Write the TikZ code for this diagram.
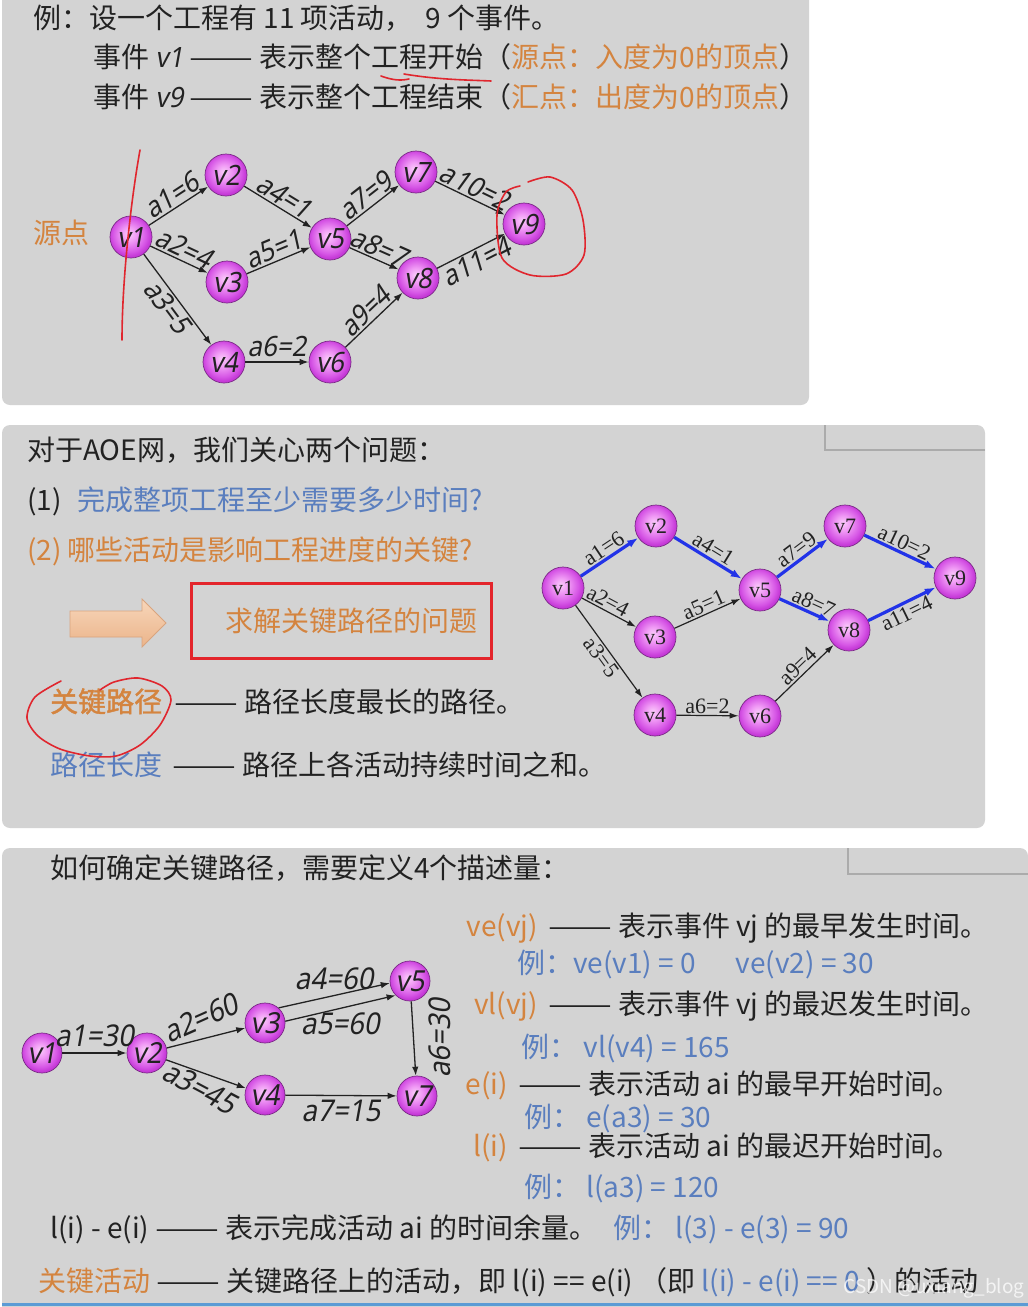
\documentclass[tikz,border=0pt]{standalone}
\usepackage{fontspec}
\setmainfont{Noto Sans CJK SC}
\newfontfamily\slantsf[FakeSlant=0.18,FakeStretch=0.92]{Noto Sans}
\newfontfamily\boldcjk[FakeBold=1.5]{Noto Sans CJK SC}
\newfontfamily\timesrm{Liberation Serif}
\usetikzlibrary{arrows.meta,positioning}
\newcommand\aoesize[1]{\fontsize{#1}{#1}\selectfont}
\newcommand\aoedash{\scalebox{1.36}[1]{——}}
\definecolor{aoeInk}{HTML}{222222}
\definecolor{aoeOrange}{HTML}{D4843F}
\definecolor{aoeBlue}{HTML}{5A7EBE}
\definecolor{aoePanel}{HTML}{D3D3D3}
\definecolor{aoeShadow}{HTML}{ABABAB}
\definecolor{aoeCrit}{HTML}{2233E8}
\definecolor{aoeRed}{HTML}{E3252B}
\definecolor{aoePen}{HTML}{E0262E}
\definecolor{aoeRule}{HTML}{5B9BD5}
\definecolor{aoeBallEdge}{HTML}{7A2A86}
\definecolor{aoeHintEdge}{HTML}{D9A47E}
\definecolor{aoeHintTop}{HTML}{F7D6BA}
\definecolor{aoeHintBottom}{HTML}{EBB48A}
\pgfdeclareradialshading{aoeballshade}{\pgfpoint{-3bp}{4bp}}{%
  rgb(0bp)=(0.98,0.80,0.98);
  rgb(9bp)=(0.94,0.60,0.96);
  rgb(20bp)=(0.84,0.34,0.90);
  rgb(25bp)=(0.77,0.22,0.84);
  rgb(50bp)=(0.77,0.22,0.84)}
\tikzset{
  every picture/.style={text=aoeInk},
  aoe panel/.style={fill=aoePanel, rounded corners=8pt},
  aoe tab/.style={draw=aoeShadow, line width=1.4pt},
  aoe line/.style={anchor=base west, inner sep=0pt, font=\aoesize{28}},
  aoe term/.style={anchor=base east, inner sep=0pt, font=\aoesize{28}, text=aoeOrange},
  aoe note/.style={aoe line, text=aoeBlue},
  aoe ball/.style={circle, shade, shading=aoeballshade, draw=aoeBallEdge,
    line width=0.7pt, inner sep=0pt, minimum size=42pt},
  aoe act/.style={draw=aoeInk, line width=1.3pt, -{Latex[length=9pt,width=6.5pt]}},
  aoe plain/.style={draw=aoeInk, line width=1.2pt, -{Latex[length=9pt,width=6pt]}},
  aoe crit/.style={draw=aoeCrit, line width=3.2pt, -{Latex[length=11pt,width=8pt]}},
  aoe tag/.style={font=\slantsf\aoesize{28}, inner sep=1.5pt},
  aoe big tag/.style={font=\slantsf\aoesize{30}, inner sep=1.5pt},
  aoe serif tag/.style={font=\timesrm\aoesize{22}, inner sep=1.5pt},
  aoe pen/.style={draw=aoePen, line width=1.6pt, line cap=round, line join=round},
  aoe hint/.style={draw=aoeHintEdge, line width=0.8pt, top color=aoeHintTop, bottom color=aoeHintBottom},
  aoe key box/.style={draw=aoeRed, line width=3pt, minimum width=300pt, minimum height=75pt,
    inner sep=0pt, text=aoeOrange, font=\aoesize{28}}
}

\begin{document}
\begin{tikzpicture}[x=1pt,y=-1pt]
  \useasboundingbox (0,0) rectangle (1028,1307);
  \clip (0,0) rectangle (1028,1307);
  % three slides
  \fill[aoe panel] (2,-10) rectangle (809,405);
  \fill[aoe panel] (2,425) rectangle (985,828);
  \fill[aoe panel] (2,848) rectangle (1028,1320);
  \draw[aoe tab] (825,425) -- (825,450) -- (985,450);
  \draw[aoe tab] (848,848) -- (848,874) -- (1028,874);
  \draw[aoeRule, line width=3pt] (2,1304) -- (1028,1304);

  % slide 1
  \node[aoe line] (example) at (33,28) {例：设一个工程有 11 项活动，\ \ 9 个事件。};
  \node[aoe line] (evstart) at (93,67) {事件 {\slantsf v1}\ \aoedash\ 表示整个工程开始（\textcolor{aoeOrange}{源点：入度为0的顶点}）};
  \node[aoe line] (evend) at (93,107) {事件 {\slantsf v9}\ \aoedash\ 表示整个工程结束（\textcolor{aoeOrange}{汇点：出度为0的顶点}）};
  \node[font=\aoesize{28}, text=aoeOrange] (srclbl) at (62,233) {源点};
  \foreach \n/\x/\y in {1/131/237,2/226/175,3/227/282,4/224/362,5/330/239,6/330/362,7/416/172,8/418/278,9/524/224}
    \node[aoe ball, font=\slantsf\aoesize{28}] (t\n) at (\x,\y) {v\n};
  \draw[aoe act] (t1) -- node[aoe tag, sloped, above] {a1=6} (t2);
  \draw[aoe act] (t1) -- node[aoe tag, sloped, above] {a2=4} (t3);
  \draw[aoe act] (t1) -- node[aoe tag, sloped, below] {a3=5} (t4);
  \draw[aoe act] (t2) -- node[aoe tag, sloped, above] {a4=1} (t5);
  \draw[aoe act] (t3) -- node[aoe tag, sloped, above] {a5=1} (t5);
  \draw[aoe act] (t4) -- node[aoe tag, above=3pt] {a6=2} (t6);
  \draw[aoe act] (t5) -- node[aoe tag, sloped, above] {a7=9} (t7);
  \draw[aoe act] (t5) -- node[aoe tag, sloped, above] {a8=7} (t8);
  \draw[aoe act] (t6) -- node[aoe tag, sloped, above] {a9=4} (t8);
  \draw[aoe act] (t7) -- node[aoe tag, sloped, above] {a10=2} (t9);
  \draw[aoe act] (t8) -- node[aoe tag, sloped, below] {a11=4} (t9);

  % slide 2
  \node[aoe line] (care) at (27,460) {对于AOE网，我们关心两个问题：};
  \node[aoe line] (ask1) at (27,510) {(1)\hspace{16pt}\textcolor{aoeBlue}{完成整项工程至少需要多少时间?}};
  \node[aoe line, text=aoeOrange] (ask2) at (27,560) {(2) 哪些活动是影响工程进度的关键?};
  \draw[aoe hint] (70,611) -- (142,611) -- (142,599) -- (166,623) -- (142,647) -- (142,637) -- (70,637) -- cycle;
  \node[aoe key box] (solve) at (341.5,621) {\hspace*{20pt}求解关键路径的问题};
  \node[aoe line, text=aoeOrange, font=\boldcjk\aoesize{28}] (keypath) at (50,712) {关键路径};
  \node[aoe line] (keypathdesc) at ([xshift=12pt]keypath.base east) {\aoedash\ 路径长度最长的路径。};
  \node[aoe line, text=aoeBlue] (pathlen) at (50,775) {路径长度};
  \node[aoe line] (pathlendesc) at ([xshift=10pt]pathlen.base east) {\aoedash\ 路径上各活动持续时间之和。};
  \foreach \n/\x/\y in {1/563/588,2/656/526,3/655/637,4/655/715,5/760/590,6/760/716,7/845/526,8/849/630,9/955/578}
    \node[aoe ball, font=\timesrm\aoesize{22}] (m\n) at (\x,\y) {v\n};
  \draw[aoe crit] (m1) -- node[aoe serif tag, sloped, above] {a1=6} (m2);
  \draw[aoe plain] (m1) -- node[aoe serif tag, sloped, above, pos=0.4] {a2=4} (m3);
  \draw[aoe plain] (m1) -- node[aoe serif tag, sloped, below] {a3=5} (m4);
  \draw[aoe crit] (m2) -- node[aoe serif tag, sloped, above] {a4=1} (m5);
  \draw[aoe plain] (m3) -- node[aoe serif tag, sloped, above] {a5=1} (m5);
  \draw[aoe plain] (m4) -- node[aoe serif tag, above] {a6=2} (m6);
  \draw[aoe crit] (m5) -- node[aoe serif tag, sloped, above] {a7=9} (m7);
  \draw[aoe crit] (m5) -- node[aoe serif tag, sloped, above, pos=0.6] {a8=7} (m8);
  \draw[aoe plain] (m6) -- node[aoe serif tag, sloped, above] {a9=4} (m8);
  \draw[aoe crit] (m7) -- node[aoe serif tag, sloped, above] {a10=2} (m9);
  \draw[aoe crit] (m8) -- node[aoe serif tag, sloped, below] {a11=4} (m9);

  % slide 3
  \node[aoe line] (howto) at (50,878) {如何确定关键路径，需要定义4个描述量：};
  \foreach \n/\x/\y in {1/42/1053,2/147/1053,3/265/1023,4/265/1095,5/410/981,7/417/1096}
    \node[aoe ball, minimum size=40pt, font=\slantsf\aoesize{29}] (b\n) at (\x,\y) {v\n};
  \draw[aoe act] (b1) -- node[aoe big tag, above=4pt] {a1=30} (b2);
  \draw[aoe act] (b2) -- node[aoe big tag, above=8pt, rotate=24] {a2=60} (b3);
  \draw[aoe act] (b2) -- node[aoe big tag, below=2pt, rotate=-28] {a3=45} (b4);
  \draw[aoe act] (b3.48) -- node[aoe big tag, above=4pt] {a4=60} (b5.186);
  \draw[aoe act] (b3.5) -- node[aoe big tag, below=2pt] {a5=60} (b5.225);
  \draw[aoe act] (b5) -- node[aoe big tag, rotate=90, anchor=north, outer sep=14pt] {a6=30} (b7);
  \draw[aoe act] (b4) -- node[aoe big tag, below=2pt] {a7=15} (b7);
  \node[aoe term] (vearly) at (538,936) {ve(vj)};
  \node[aoe line] (vearlydesc) at ([xshift=10pt]vearly.base east) {\aoedash\ 表示事件 vj 的最早发生时间。};
  \node[aoe note] (vearlyex) at (517,973) {例：ve(v1) = 0\hspace{40pt}ve(v2) = 30};
  \node[aoe term] (vlate) at (538,1014) {vl(vj)};
  \node[aoe line] (vlatedesc) at ([xshift=10pt]vlate.base east) {\aoedash\ 表示事件 vj 的最迟发生时间。};
  \node[aoe note] (vlateex) at (521,1057) {例：\ vl(v4) = 165};
  \node[aoe term] (aearly) at (508,1094) {e(i)};
  \node[aoe line] (aearlydesc) at ([xshift=10pt]aearly.base east) {\aoedash\ 表示活动 ai 的最早开始时间。};
  \node[aoe note] (aearlyex) at (524,1127) {例：\ e(a3) = 30};
  \node[aoe term] (alate) at (508,1156) {l(i)};
  \node[aoe line] (alatedesc) at ([xshift=10pt]alate.base east) {\aoedash\ 表示活动 ai 的最迟开始时间。};
  \node[aoe note] (alateex) at (524,1197) {例：\ l(a3) = 120};
  \node[aoe line] (slack) at (50,1238) {l(i) - e(i)\ \aoedash\ 表示完成活动 ai 的时间余量。};
  \node[aoe note] (slackex) at (613,1238) {例：\ l(3) - e(3) = 90};
  \node[aoe line] (critact) at (38,1291) {\textcolor{aoeOrange}{关键活动}\ \aoedash\ 关键路径上的活动，即 l(i) == e(i) （即 \textcolor{aoeBlue}{l(i) - e(i) == 0} ）的活动};
  \node[font=\aoesize{19}, text=white, opacity=0.75] (mark) at (934,1288) {CSDN @uxiang\_blog};

  % pen marks
  \draw[aoe pen] (140,150) .. controls (131,200) and (122,280) .. (122,340);
  \draw[aoe pen] (381,76) .. controls (392,80) and (400,81) .. (409,79);
  \draw[aoe pen] (404,74) .. controls (440,80) and (470,80) .. (491,81);
  \draw[aoe pen] plot[smooth] coordinates {(528,182) (550,177) (572,190) (583,220) (584,255) (566,274) (530,275) (502,258) (497,215) (506,192) (520,186)};
  \draw[aoe pen] plot[smooth] coordinates {(61,681) (35,697) (27,718) (38,736) (60,749) (90,756) (116,756) (140,745) (160,725) (171,700) (162,686) (138,678) (114,682) (100,690)};
\end{tikzpicture}
\end{document}
